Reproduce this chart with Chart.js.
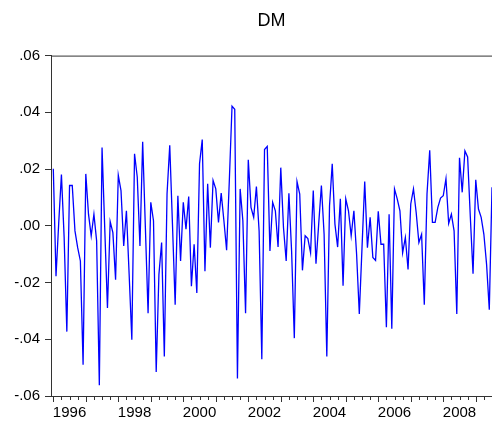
<!DOCTYPE html>
<html>
<head>
<meta charset="utf-8">
<script src="https://cdn.jsdelivr.net/npm/chart.js@4.4.1/dist/chart.umd.min.js"></script>
<style>
  html, body { margin: 0; padding: 0; background: #ffffff; }
  canvas { display: block; }
</style>
</head>
<body>
<canvas id="chart" width="492" height="421"></canvas>
<script>
// Monthly series DM, starting January 1996
const startYear = 1996;
const dm = [
  0.0201, -0.0178, 0.0010, 0.0181, -0.0040, -0.0373, 0.0142, 0.0142, -0.0018, -0.0077, -0.0124, -0.0490,
  0.0183, 0.0041, -0.0035, 0.0041, -0.0053, -0.0562, 0.0276, -0.0010, -0.0290, 0.0015, -0.0024, -0.0190,
  0.0178, 0.0124, -0.0071, 0.0053, -0.0170, -0.0402, 0.0254, 0.0172, -0.0071, 0.0296, -0.0006, -0.0308,
  0.0083, 0.0018, -0.0515, -0.0172, -0.0059, -0.0461, 0.0112, 0.0284, 0.0006, -0.0278, 0.0106, -0.0124,
  0.0083, -0.0012, 0.0103, -0.0213, -0.0065, -0.0237, 0.0219, 0.0304, -0.0160, 0.0148, -0.0077, 0.0160,
  0.0130, 0.0012, 0.0115, 0.0018, -0.0086, 0.0160, 0.0422, 0.0411, -0.0538, 0.0130, 0.0018, -0.0308,
  0.0233, 0.0065, 0.0030, 0.0138, -0.0018, -0.0470, 0.0269, 0.0280, -0.0089, 0.0083, 0.0053, -0.0075,
  0.0205, -0.0006, -0.0124, 0.0115, -0.0090, -0.0396, 0.0156, 0.0112, -0.0157, -0.0035, -0.0045, -0.0095,
  0.0124, -0.0134, 0.0006, 0.0142, -0.0030, -0.0461, 0.0070, 0.0219, 0.0006, -0.0075, 0.0095, -0.0211,
  0.0095, 0.0053, -0.0035, 0.0053, -0.0100, -0.0311, -0.0077, 0.0156, -0.0077, 0.0030, -0.0112, -0.0122,
  0.0051, -0.0065, -0.0065, -0.0358, 0.0041, -0.0363, 0.0130, 0.0095, 0.0053, -0.0095, -0.0041, -0.0154,
  0.0077, 0.0130, 0.0047, -0.0059, -0.0030, -0.0278, 0.0112, 0.0266, 0.0012, 0.0012, 0.0065, 0.0098,
  0.0106, 0.0166, 0.0008, 0.0041, -0.0018, -0.0311, 0.0240, 0.0118, 0.0264, 0.0243, 0.0030, -0.0169,
  0.0162, 0.0059, 0.0030, -0.0030, -0.0136, -0.0296, 0.0136
];
const yearLabels = ['1996', '1998', '2000', '2002', '2004', '2006', '2008'];
const yTicks = [-0.06, -0.04, -0.02, 0.00, 0.02, 0.04, 0.06];

// Period names such as 1996M01, used as the x categories
const periods = dm.map((_, i) =>
  (startYear + Math.floor(i / 12)) + 'M' + String(i % 12 + 1).padStart(2, '0'));

const fontFamily = '"Liberation Sans", Arial, Helvetica, sans-serif';
const axisColor = '#333333';

// Top frame line plus quarterly / yearly tick marks under the time axis
const frameAndTicks = {
  id: 'frameAndTicks',
  afterDraw(chart) {
    const { ctx, chartArea: a, scales: { x } } = chart;
    ctx.save();
    ctx.strokeStyle = axisColor;
    ctx.lineWidth = 1;
    ctx.beginPath();
    ctx.moveTo(a.left, a.top + 0.5);
    ctx.lineTo(a.right, a.top + 0.5);
    periods.forEach((p, i) => {
      if (i % 3 !== 0) return;
      const px = Math.round(x.getPixelForValue(i)) + 0.5;
      const len = i % 12 === 0 ? 6 : 4;
      ctx.moveTo(px, a.bottom);
      ctx.lineTo(px, a.bottom + len);
    });
    ctx.stroke();
    ctx.restore();
  }
};

function fmtTick(v) {
  if (Math.abs(v) < 1e-9) return '.00';
  return v.toFixed(2).replace('0.', '.');
}

new Chart(document.getElementById('chart'), {
  type: 'line',
  data: {
    datasets: [{
      label: 'DM',
      data: dm.map((v, i) => ({ x: i, y: v })),
      borderColor: '#0000ff',
      borderWidth: 1.3,
      pointRadius: 0,
      tension: 0,
      fill: false
    }]
  },
  options: {
    responsive: false,
    animation: false,
    devicePixelRatio: 1,
    layout: { padding: 0 },
    plugins: {
      legend: { display: false },
      tooltip: { enabled: false },
      title: {
        display: true,
        text: 'DM',
        fullSize: false,
        color: '#000000',
        font: { family: fontFamily, size: 18, weight: 'normal' },
        padding: { top: 10, bottom: 24 }
      }
    },
    scales: {
      x: {
        type: 'linear',
        min: -0.85,
        max: dm.length - 1,
        grid: { display: false, drawTicks: false },
        border: { display: true, color: axisColor, width: 1 },
        ticks: {
          autoSkip: false,
          maxRotation: 0,
          padding: 8,
          color: '#000000',
          font: { family: fontFamily, size: 15 },
          callback: (v, i) => yearLabels[i]
        },
        afterBuildTicks: (s) => {
          s.ticks = yearLabels.map((y) => ({ value: (Number(y) - startYear) * 12 + 6 }));
        },
        afterFit: (s) => { s.height = 25; }
      },
      y: {
        min: -0.06,
        max: 0.06,
        grid: { drawOnChartArea: false, drawTicks: true, tickLength: 6, tickColor: axisColor },
        border: { display: true, color: axisColor, width: 1 },
        ticks: {
          padding: 5,
          color: '#000000',
          font: { family: fontFamily, size: 15 },
          callback: (v) => fmtTick(v)
        },
        afterBuildTicks: (s) => { s.ticks = yTicks.map((v) => ({ value: v })); },
        afterFit: (s) => { s.width = 51; }
      }
    }
  },
  plugins: [frameAndTicks]
});
</script>
</body>
</html>
